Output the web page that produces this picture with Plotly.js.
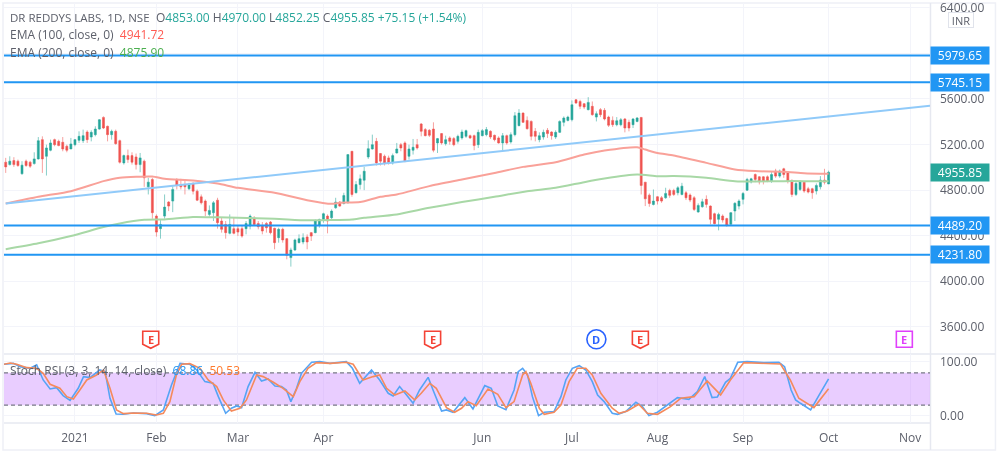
<!DOCTYPE html>
<html><head><meta charset="utf-8">
<script src="https://cdn.plot.ly/plotly-3.0.1.min.js"></script>
<style>html,body{margin:0;padding:0;background:#fff}#c{width:998px;height:453px;filter:blur(0.4px)}</style>
</head><body><div id="c"></div>
<script>
const open_=[5044,5023,5058,5053,4942,5053,5044,5032,5073,5242,5096,5149,5242,5227,5219,5184,5160,5198,5236,5233,5309,5265,5286,5335,5437,5359,5286,5315,5233,5038,5102,5102,5090,5023,5053,4828,4892,4571,4461,4571,4694,4703,4892,4848,4848,4811,4857,4790,4740,4703,4586,4601,4711,4528,4498,4420,4461,4461,4461,4461,4484,4548,4507,4484,4507,4519,4464,4382,4455,4373,4207,4274,4338,4344,4388,4426,4426,4490,4542,4571,
4557,4644,4694,4682,4688,5140,4776,4848,4886,5090,5160,5227,5120,5096,5082,5038,5125,5198,5213,5096,5149,5198,5379,5330,5324,5335,5213,5295,5207,5257,5251,5227,5257,5271,5277,5277,5198,5277,5286,5315,5280,5257,5213,5277,5222,5286,5365,5475,5411,5402,5315,5242,5265,5324,5309,5265,5306,5394,5411,5417,5592,5577,5557,5505,5534,5440,5505,5499,5440,5411,5373,5373,5423,5394,5373,5402,5437,4869,4755,4673,
4741,4732,4732,4796,4796,4776,4761,4776,4756,4732,4607,4653,4718,4659,4592,4543,4572,4549,4499,4616,4659,4718,4799,4872,4936,4916,4916,4916,4878,4966,4922,4986,4951,4884,4761,4805,4869,4811,4811,4791,4828,4887,4853];
const high_=[5082,5096,5088,5067,5053,5067,5056,5131,5265,5271,5198,5242,5251,5242,5265,5198,5257,5248,5315,5330,5324,5324,5359,5423,5446,5365,5330,5330,5242,5111,5155,5131,5120,5125,5067,4907,4907,4586,4536,4761,4703,4834,4904,4898,4892,4863,4869,4805,4761,4717,4665,4703,4732,4557,4528,4586,4557,4484,4484,4528,4586,4571,4528,4519,4519,4528,4469,4469,4469,4379,4294,4373,4411,4420,4411,4432,4542,4548,4601,4586,
4630,4732,4703,4776,5111,5140,4878,4936,5003,5236,5286,5257,5125,5111,5102,5120,5213,5213,5227,5198,5248,5248,5388,5344,5335,5394,5257,5300,5277,5271,5265,5286,5330,5330,5286,5286,5330,5335,5353,5324,5286,5271,5300,5286,5306,5484,5510,5481,5446,5411,5344,5306,5330,5344,5315,5324,5411,5446,5452,5586,5598,5592,5563,5615,5577,5490,5519,5519,5452,5446,5440,5432,5432,5417,5432,5440,5440,4869,4770,4805,
4746,4747,4820,4811,4811,4834,4863,4791,4770,4747,4683,4723,4753,4665,4601,4601,4586,4557,4607,4694,4718,4782,4907,4907,4945,4922,4922,4928,4957,4986,4980,4995,4966,4893,4869,4878,4878,4828,4820,4858,4922,4986,4970];
const low_=[4950,5015,5003,5003,4936,5003,4994,5023,5067,4950,4927,5140,5184,5184,5140,5131,5160,5184,5213,5213,5213,5227,5271,5330,5335,5227,5242,5198,5032,5023,5038,5023,4980,4956,4828,4761,4548,4391,4373,4548,4615,4606,4805,4805,4761,4799,4761,4703,4673,4571,4566,4528,4461,4426,4373,4411,4411,4396,4382,4411,4455,4484,4455,4411,4426,4411,4280,4338,4338,4192,4128,4265,4332,4324,4280,4353,4420,4469,4513,4420,
4536,4636,4653,4673,4682,4741,4770,4805,4799,5073,5155,5015,5015,5015,5023,5023,5120,5140,5044,5067,5111,5155,5271,5271,5265,5131,5125,5198,5190,5198,5184,5207,5242,5257,5248,5149,5169,5271,5271,5248,5227,5207,5140,5198,5207,5271,5359,5388,5330,5236,5227,5219,5242,5257,5242,5248,5300,5359,5402,5402,5557,5510,5510,5499,5452,5402,5440,5411,5353,5353,5359,5359,5306,5315,5344,5394,4761,4659,4653,4665,
4673,4688,4723,4732,4747,4753,4753,4712,4694,4616,4601,4645,4645,4499,4499,4446,4514,4478,4484,4528,4630,4674,4791,4858,4869,4849,4849,4869,4863,4907,4907,4907,4858,4738,4747,4791,4776,4770,4723,4761,4805,4849,4852.25];
const close_=[5003,5053,5023,5015,5018,5015,5009,5073,5233,5073,5169,5213,5198,5190,5160,5149,5204,5242,5271,5277,5242,5306,5335,5417,5344,5286,5315,5207,5044,5102,5067,5044,5023,5082,4907,4869,4601,4431,4498,4650,4659,4805,4840,4828,4828,4848,4790,4711,4688,4615,4621,4688,4513,4455,4426,4498,4420,4431,4396,4507,4571,4498,4478,4440,4469,4426,4338,4455,4362,4227,4274,4362,4373,4382,4344,4396,4528,4542,4592,4528,
4615,4694,4659,4752,5111,4761,4848,4898,4965,5163,5198,5038,5053,5038,5038,5102,5160,5169,5053,5160,5175,5169,5315,5277,5280,5149,5251,5213,5242,5227,5198,5271,5309,5321,5257,5190,5306,5321,5330,5265,5242,5213,5277,5213,5286,5452,5475,5394,5338,5271,5271,5277,5306,5295,5277,5306,5402,5432,5440,5548,5563,5534,5528,5569,5461,5470,5461,5423,5368,5373,5408,5417,5344,5344,5423,5432,4840,4723,4682,4703,
4703,4703,4770,4753,4761,4820,4834,4732,4712,4630,4665,4697,4674,4543,4505,4586,4537,4490,4601,4683,4703,4770,4893,4898,4893,4872,4878,4878,4936,4922,4966,4936,4878,4761,4858,4878,4791,4782,4776,4840,4887,4869,4955.85];
const barIndex=close_.map((_,i)=>i);

const emaIdx100=[0,8,16,24,28,36,39,46,52,57,66,74,80,82,87,92,96,104,112,120,127,135,142,147,155,157,160,164,172,179,184,191,196,202];
const ema100=[4682,4741,4790,4878,4907,4918,4898,4883,4857,4819,4776,4711,4679,4688,4694,4741,4761,4834,4892,4950,5003,5044,5111,5146,5175,5155,5125,5103,5038,4980,4966,4960,4948,4941.72];
const emaIdx200=[0,8,16,24,28,34,39,46,52,57,66,74,80,85,88,96,104,112,120,128,135,142,147,155,160,164,172,179,184,191,196,202];
const ema200=[4280,4332,4396,4475,4507,4539,4542,4563,4560,4557,4548,4534,4536,4542,4557,4586,4644,4694,4741,4790,4819,4869,4901,4936,4921,4922,4907,4878,4875,4878,4878,4875.90];

const kIdx=[-0.5,1.9,3.5,6,7.6,9.2,10.9,12.5,14.1,15.8,17.8,19.1,20.7,23.1,24.4,25.6,27.1,28.9,31.3,34.6,36.6,38.7,40.7,42.8,45.2,46.9,48.9,50.9,52.2,54,55.4,56.7,57.9,59.5,61.2,62.8,64.4,66.1,67.7,68.9,70,71.4,72.6,75.1,77.1,79.6,83.6,85.1,86.9,89.8,91.8,93.9,95.1,96.7,98.4,100,101.6,103.7,104.9,107,108.2,109.8,112.7,114.7,117.6,119.2,120.8,122.8,124.8,125.8,126.9,128.1,129.3,130.8,132.2,134.6,136.3,137.5,139.1,140.8,142.4,144,145.3,146.9,148.9,150.2,152.2,154.7,156.3,157.9,160,162.4,164.9,167.7,169.8,171.6,173.4,174.7,176.7,177.9,179.7,182,186.1,189.8,191.2,192.8,193.9,195.1,197.6,199.6,202];
const kVal=[95.7,97.5,91.4,88.3,94.5,66.7,50,52.5,37.7,29,51.3,72.9,71,85.2,82.1,32.8,3.8,3.1,5.6,4.4,0.7,11.2,57.4,97.5,95.7,85.2,63.6,60.5,35.8,5,14.3,18.6,15.5,54.4,80.9,64.8,68.5,55.6,54.4,48.2,26.6,51.3,79,99.4,100.6,97.5,100.6,88.3,60.5,85.2,66.7,42,37.1,54.4,38.9,23.5,48.2,71.6,48.2,9.3,11.2,6.9,34,13,56.2,51.3,18.6,11.8,48.2,82.1,88.3,76,35.8,0.7,6.9,8.1,35.8,66.7,88.3,93.2,85.2,63.6,38.9,26.6,5,3.1,8.1,25.4,17.3,0.7,6.9,20.4,34,30.9,45.1,72.9,34,35.2,62.4,69.8,99.4,100.6,98.8,99.4,91.4,48.2,29.7,23.5,11.2,37.7,68.86];
const dIdx=[-0.5,1.1,2.7,5.2,7.6,9.2,10.9,13.3,15,16.6,18.2,19.9,22.3,24,25.6,27.2,28.9,31.3,34.6,37,38.7,40.3,41.9,43.2,45.2,47.7,49.7,51.8,53.4,55.4,57.5,59.1,61.6,63.2,65.7,68.1,70.6,72.2,74.2,76.3,79.6,83.6,85.3,87.7,90.2,91.8,93.5,95.5,98,100.4,102,104.1,105.7,108.2,110.2,111.9,113.5,115.5,118.4,120.8,122.8,124.8,126.9,127.7,128.9,131,132.2,134.6,136.3,138.3,140.3,142.4,144,146.1,148.9,150.6,152.6,155.4,157.5,160,163.2,165.7,169,172.2,175.5,177.9,181.2,186.1,190.2,192.6,194.7,198.4,202];
const dVal=[95.7,98.2,95.7,89.5,88.3,79,58.7,51.3,35.8,31.5,48.2,66.7,76,85.2,51.3,11.2,4.4,5.6,5,1.9,5,26.6,76,95.7,97,88.3,66.7,54.4,29.7,9.3,14.3,29.7,76,72.9,62.4,51.3,35.8,63.6,88.3,98.8,97.5,99.4,95.7,66.7,72.9,76,51.3,38.9,46.3,29.7,42,60.5,51.3,15.5,6.9,14.3,26.6,19.2,50,40.2,15.5,26.6,76,82.1,60.5,14.3,3.1,6.9,20.4,63.6,88.3,88.3,76,42,14.3,5,9.3,21.7,5,3.1,17.3,32.8,35.8,64.8,39,66.7,98.8,97.5,96.3,66.7,32.8,15.5,50.53];

const levels=[5979.65,5745.15,4489.20,4231.80];
const lastPrice=4955.85;
const trendEnds=[4682,5540];
const priceTicks=[6400,6000,5600,5200,4800,4400,4000,3600];
const priceTickText=['6400.00','','5600.00','5200.00','4800.00','4400.00','4000.00','3600.00'];
const stochTicks=[100,0];
const stochTickText=['100.00','0.00'];
const timeTicks=[17,37,57,78,117,139,160,181,202,222];
const timeLabels=['2021','Feb','Mar','Apr','Jun','Jul','Aug','Sep','Oct','Nov'];
const earnIdx=[35.6,104.8,155.8];
const divIdx=145;
const nextEarnIdx=220.6;
const markerPrice=3490;

const FONT='"Open Sans", sans-serif', TXT='#5d606b', UP='#26a69a', DN='#ef5350', BLUE='#2196f3', GRID='#f3f4fa';
const XMIN=-0.42, XMAX=226.9;
const px=(x)=>(x-4)/926.5, py=(y)=>(423-y)/420;

const traces=[
 {type:'candlestick',x:barIndex,open:open_,high:high_,low:low_,close:close_,xaxis:'x',yaxis:'y',
  increasing:{line:{color:'rgba(38,166,154,0.55)',width:1},fillcolor:UP},
  decreasing:{line:{color:'rgba(239,83,80,0.55)',width:1},fillcolor:DN},whiskerwidth:0,hoverinfo:'skip'},
 {type:'scatter',mode:'lines',x:emaIdx100,y:ema100,line:{color:'#f9a199',width:2,shape:'spline',smoothing:0.6},hoverinfo:'skip'},
 {type:'scatter',mode:'lines',x:emaIdx200,y:ema200,line:{color:'#a8d8a6',width:2,shape:'spline',smoothing:0.6},hoverinfo:'skip'},
 {type:'scatter',mode:'lines',x:[0,XMAX],y:trendEnds,line:{color:'#90caf9',width:2},hoverinfo:'skip'}
];
levels.forEach(v=>traces.push({type:'scatter',mode:'lines',x:[XMIN,XMAX],y:[v,v],line:{color:BLUE,width:2},hoverinfo:'skip'}));
[80,20].forEach(v=>traces.push({type:'scatter',mode:'lines',x:[XMIN,XMAX],y:[v,v],yaxis:'y2',line:{color:'#787b86',width:1.2,dash:'4px,3px'},hoverinfo:'skip'}));
traces.push({type:'scatter',mode:'lines',x:kIdx,y:kVal,yaxis:'y2',line:{color:'#55a4f5',width:1.6},hoverinfo:'skip'});
traces.push({type:'scatter',mode:'lines',x:dIdx,y:dVal,yaxis:'y2',line:{color:'#f58a5c',width:1.6},hoverinfo:'skip'});

const box=(v,bg)=>({xref:'paper',yref:'y',x:px(931),y:v,xanchor:'left',yanchor:'middle',showarrow:false,
  text:v.toFixed(2),width:58,height:17,bgcolor:bg,borderpad:0,align:'center',font:{family:FONT,size:12,color:'#fff'}});
const legend=(x,y,text,size)=>({xref:'paper',yref:'paper',x:px(x-3),y:py(y),xanchor:'left',yanchor:'middle',showarrow:false,text,align:'left',font:{family:FONT,size:size||12,color:TXT}});
const col=(c,t)=>`<span style="color:${c}">${t}</span>`;
const tag=(i,t,c)=>({xref:'x',yref:'y',x:i,y:markerPrice,xanchor:'center',yanchor:'middle',showarrow:false,text:`<b>${t}</b>`,font:{family:FONT,size:11,color:c}});

const annotations=[
 ...levels.map(v=>box(v,BLUE)), box(lastPrice,UP),
 legend(11,18,'DR REDDYS LABS, 1D, NSE',11.5),
 legend(157,18,`O${col(UP,'4853.00')} H${col(UP,'4970.00')} L${col(UP,'4852.25')} C${col(UP,'4955.85')} ${col(UP,'+75.15 (+1.54%)')}`),
 legend(11,35,`EMA (100, close, 0)  ${col('#ff5a52','4941.72')}`),
 legend(11,52,`EMA (200, close, 0)  ${col('#4caf50','4875.90')}`),
 legend(11,370,`Stoch RSI (3, 3, 14, 14, close)  ${col('#2196f3','68.86')}  ${col('#ff7a2e','50.53')}`),
 {xref:'paper',yref:'paper',x:px(962),y:py(20),xanchor:'center',yanchor:'middle',showarrow:false,text:'INR',width:22,height:12,bgcolor:'#fff',bordercolor:'#e0e3eb',borderwidth:1,borderpad:1,font:{family:FONT,size:11,color:TXT}},
 ...earnIdx.map(i=>tag(i,'E','#f44336')), tag(divIdx,'D','#2962ff'), tag(nextEarnIdx,'E','#e040fb')
];
const anchored=(i,path,line)=>({type:'path',xsizemode:'pixel',ysizemode:'pixel',xref:'x',yref:'y',xanchor:i,yanchor:markerPrice,path,fillcolor:'#fff',line:{color:line,width:1.6}});
const shapes=[
 {type:'rect',xref:'x',yref:'y2',x0:XMIN,x1:XMAX,y0:20,y1:80,fillcolor:'rgba(200,130,255,0.4)',line:{width:0},layer:'between'},
 {type:'rect',xref:'paper',yref:'paper',x0:px(3),x1:px(996),y0:py(450),y1:py(3),line:{color:'#eef0f6',width:1.5},layer:'below'},
 {type:'line',xref:'paper',yref:'paper',x0:px(4),x1:px(996),y0:py(354),y1:py(354),line:{color:'#e6e8f0',width:1.5},layer:'below'},
 {type:'line',xref:'paper',yref:'paper',x0:px(4),x1:px(931),y0:py(423),y1:py(423),line:{color:'#e6e8f0',width:1.5},layer:'below'},
 {type:'line',xref:'paper',yref:'paper',x0:px(931),x1:px(931),y0:py(450),y1:py(3),line:{color:'#e6e8f0',width:1.5},layer:'below'},
 ...earnIdx.map(i=>anchored(i,'M-8,8 L8,8 L8,-5 L0,-9 L-8,-5 Z','#f44336')),
 {type:'circle',xsizemode:'pixel',ysizemode:'pixel',xref:'x',yref:'y',xanchor:divIdx,yanchor:markerPrice,x0:-9.5,x1:9.5,y0:-9.5,y1:9.5,fillcolor:'#fff',line:{color:'#2962ff',width:1.6}},
 anchored(nextEarnIdx,'M-8,8 L8,8 L8,-8 L-8,-8 Z','#e040fb')
];
const layout={
 width:998,height:453,showlegend:false,hovermode:false,paper_bgcolor:'#fff',plot_bgcolor:'#fff',
 margin:{l:4,r:67.5,t:3,b:30,pad:0},
 xaxis:{type:'linear',anchor:'y2',range:[XMIN,XMAX],tickmode:'array',tickvals:timeTicks,ticktext:timeLabels,showgrid:true,gridcolor:GRID,gridwidth:1,zeroline:false,
   rangeslider:{visible:false},ticks:'',ticklabelstandoff:6,tickfont:{family:FONT,size:12,color:TXT},showline:false},
 yaxis:{domain:[0.1667,1],side:'right',anchor:'x',range:[3370,6441],tickmode:'array',tickvals:priceTicks,ticktext:priceTickText,showgrid:true,gridcolor:GRID,zeroline:false,ticks:'',ticklabelstandoff:9,ticklabeloverflow:'allow',tickfont:{family:FONT,size:12,color:TXT}},
 yaxis2:{domain:[0,0.1643],side:'right',anchor:'x',range:[-13,114.8],tickmode:'array',tickvals:stochTicks,ticktext:stochTickText,showgrid:true,gridcolor:GRID,zeroline:false,ticks:'',ticklabelstandoff:9,tickfont:{family:FONT,size:12,color:TXT}},
 annotations,shapes
};
Plotly.newPlot('c',traces,layout,{displayModeBar:false,staticPlot:true});
</script></body></html>
